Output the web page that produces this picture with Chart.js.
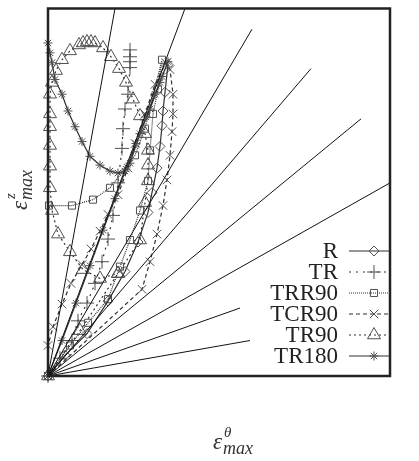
<!DOCTYPE html>
<html>
<head>
<meta charset="utf-8">
<script src="https://cdn.jsdelivr.net/npm/chart.js@4/dist/chart.umd.min.js"></script>
<style>
  html, body { margin: 0; padding: 0; background: #fff; }
  canvas { display: block; }
</style>
</head>
<body>
<canvas id="chart" width="419" height="461"></canvas>
<script>
var rayEndX = [67, 137, 204, 263, 313, 342, 192, 202];
var rayEndY = [373, 373, 352, 312, 261, 196, 69, 36];

var seriesNames = ['R', 'TR', 'TRR90', 'TCR90', 'TR90', 'TR180'];

var rX = [0, 17, 39, 60, 77, 90, 100, 104, 109, 112, 114, 115, 117, 120];
var rY = [0, 21, 43, 76, 106, 136, 166, 186, 211, 233, 254, 269, 288, 316];

var trX = [0, 12, 24, 30, 39, 47, 54, 60, 65, 70, 74, 75, 77, 80, 82, 82, 82, 82];
var trY = [0, 18, 36, 56, 74, 94, 116, 139, 163, 196, 231, 251, 271, 286, 313, 319, 324, 331];

var trr90X = [0, 22, 40, 60, 72, 82, 92, 100, 102, 105, 110, 114, 97, 87, 62, 45, 24, 1];
var trr90Y = [0, 31, 54, 78, 111, 138, 168, 198, 229, 266, 291, 321, 251, 224, 191, 179, 173, 173];

var tcr90X = [0, 94, 102, 109, 115, 119, 122, 124, 125, 125, 122, 118, 107, 97, 87, 80, 70, 60, 52, 43, 34, 23, 14, 5, 0];
var tcr90Y = [0, 88, 116, 144, 173, 199, 224, 248, 266, 286, 311, 318, 296, 266, 236, 211, 184, 164, 147, 129, 113, 94, 73, 50, 31];

var tr90X = [0, 32, 70, 92, 97, 100, 100, 100, 97, 92, 85, 78, 71, 63, 55, 47, 43, 39, 35, 31, 22, 14, 8, 4, 2, 2, 2, 2, 2, 2, 4, 10, 22, 35, 52, 70];
var tr90Y = [0, 46, 104, 138, 176, 198, 214, 229, 246, 264, 281, 298, 312, 324, 333, 338, 339, 339, 338, 336, 330, 321, 310, 298, 286, 266, 253, 234, 213, 191, 168, 144, 126, 108, 99, 104];

var tr180X = [0, 14, 28, 42, 55, 67, 78, 88, 98, 107, 114, 120, 112, 102, 92, 82, 77, 70, 62, 52, 42, 34, 27, 20, 14, 7, 4, 2, 0];
var tr180Y = [0, 36, 74, 112, 148, 180, 210, 236, 263, 286, 304, 319, 298, 271, 246, 216, 208, 206, 208, 214, 223, 238, 253, 269, 286, 301, 318, 328, 338];

var seriesX = [rX, trX, trr90X, tcr90X, tr90X, tr180X];
var seriesY = [rY, trY, trr90Y, tcr90Y, tr90Y, tr180Y];
var pointStyles = ['rectRot', 'cross', 'rect', 'crossRot', 'triangle', 'star'];
var pointSizes = [5, 7, 5, 6, 7.5, 4.5];
var dashes = [[], [2, 5], [1, 1], [4, 3], [2, 3], []];

var line_clr = '#2e2e2e';
var mark_clr = '#505050';

function pts(xs, ys) {
  return xs.map(function(x, i) { return {x: x, y: ys[i]}; });
}

var datasets = [];
rayEndX.forEach(function(ex, i) {
  datasets.push({
    label: 'ray' + i,
    data: [{x: 0, y: 0}, {x: ex, y: rayEndY[i]}],
    borderColor: '#111',
    borderWidth: 1,
    pointRadius: 0,
    showLine: true,
    clip: false
  });
});
seriesNames.forEach(function(name, i) {
  datasets.push({
    label: name,
    data: pts(seriesX[i], seriesY[i]),
    borderColor: line_clr,
    backgroundColor: 'rgba(0,0,0,0)',
    borderWidth: 1.2,
    borderDash: dashes[i],
    pointStyle: pointStyles[i],
    pointRadius: pointSizes[i],
    pointBorderColor: mark_clr,
    pointBackgroundColor: 'rgba(0,0,0,0)',
    pointBorderWidth: 1,
    showLine: true,
    isSeries: true,
    clip: false
  });
});

var framePlugin = {
  id: 'frame',
  afterDatasetsDraw: function(chart) {
    var ctx = chart.ctx, a = chart.chartArea;
    ctx.save();
    ctx.strokeStyle = '#222';
    ctx.lineWidth = 2.5;
    ctx.strokeRect(a.left, a.top, a.right - a.left, a.bottom - a.top);
    ctx.restore();
  }
};

var legendPlugin = {
  id: 'sideLegend',
  afterDraw: function(chart) {
    var ctx = chart.ctx, a = chart.chartArea;
    ctx.save();
    ctx.font = '23px "Liberation Serif"';
    ctx.textAlign = 'right';
    ctx.textBaseline = 'middle';
    var row = 0;
    chart.data.datasets.forEach(function(ds) {
      if (!ds.isSeries) return;
      var y = a.bottom - 125 + row * 21;
      ctx.fillStyle = '#222';
      ctx.fillText(ds.label, a.right - 52, y + 1);
      ctx.strokeStyle = ds.borderColor;
      ctx.lineWidth = 1;
      ctx.setLineDash(ds.borderDash);
      ctx.beginPath();
      ctx.moveTo(a.right - 41, y);
      ctx.lineTo(a.right, y);
      ctx.stroke();
      ctx.setLineDash([]);
      ctx.strokeStyle = mark_clr;
      ctx.fillStyle = 'rgba(0,0,0,0)';
      Chart.helpers.drawPoint(ctx, {
        pointStyle: ds.pointStyle, rotation: 0,
        radius: ds.pointRadius, borderWidth: 1
      }, a.right - 16, y);
      row++;
    });
    ctx.restore();
  }
};

function drawEps(ctx, sup) {
  ctx.font = 'italic 23px "Liberation Serif"';
  var wE = ctx.measureText('\u03b5').width;
  ctx.font = 'italic 18px "Liberation Serif"';
  var wSub = ctx.measureText('max').width;
  var x0 = -(wE + 1 + wSub) / 2;
  ctx.textAlign = 'left';
  ctx.textBaseline = 'alphabetic';
  ctx.font = 'italic 23px "Liberation Serif"';
  ctx.fillText('\u03b5', x0, 0);
  ctx.font = 'italic 15px "Liberation Serif"';
  ctx.fillText(sup, x0 + wE + 2, -12);
  ctx.font = 'italic 18px "Liberation Serif"';
  ctx.fillText('max', x0 + wE + 1, 5);
}

var titlePlugin = {
  id: 'axisTitles',
  afterDraw: function(chart) {
    var ctx = chart.ctx;
    ctx.save();
    ctx.fillStyle = '#333';
    ctx.translate(233, 449);
    drawEps(ctx, '\u03b8');
    ctx.restore();
    ctx.save();
    ctx.fillStyle = '#333';
    ctx.translate(27, 190);
    ctx.rotate(-Math.PI / 2);
    drawEps(ctx, 'z');
    ctx.restore();
  }
};

new Chart(document.getElementById('chart'), {
  type: 'scatter',
  data: { datasets: datasets },
  options: {
    responsive: false,
    animation: false,
    devicePixelRatio: 1,
    layout: { padding: { left: 48, top: 3, right: 29, bottom: 85 } },
    scales: {
      x: { display: false, min: 0, max: 342 },
      y: { display: false, min: 0, max: 373 }
    },
    plugins: {
      legend: { display: false },
      tooltip: { enabled: false }
    }
  },
  plugins: [framePlugin, legendPlugin, titlePlugin]
});
</script>
</body>
</html>
